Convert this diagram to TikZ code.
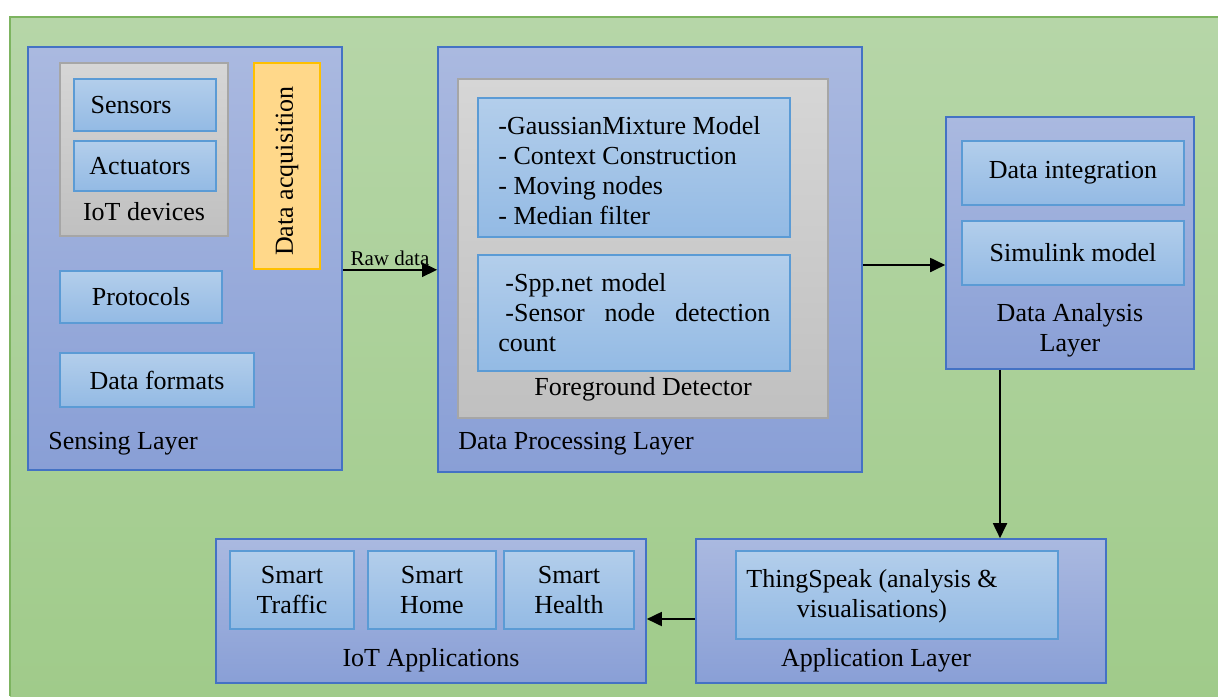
\documentclass[tikz,border=0pt]{standalone}
\usepackage{fontspec}
\setmainfont{Liberation Serif}
\usepackage{xcolor}
\usepackage{tikz}
\usetikzlibrary{arrows.meta,positioning,fit,calc}

\definecolor{gruenOben}{HTML}{B6D6A8}
\definecolor{gruenUnten}{HTML}{A0CB8A}
\definecolor{gruenRand}{HTML}{7DB460}
\definecolor{schichtOben}{HTML}{AAB9E0}
\definecolor{schichtUnten}{HTML}{899FD6}
\definecolor{schichtRand}{HTML}{4472C4}
\definecolor{bausteinOben}{HTML}{B3CEEB}
\definecolor{bausteinUnten}{HTML}{93BAE4}
\definecolor{bausteinRand}{HTML}{5B9BD5}
\definecolor{grauOben}{HTML}{D6D6D6}
\definecolor{grauUnten}{HTML}{C0C0C0}
\definecolor{grauRand}{HTML}{A6A6A6}
\definecolor{orangeFuell}{HTML}{FFD88A}
\definecolor{orangeRand}{HTML}{FFC000}

\begin{document}
\begin{tikzpicture}[x=0.5pt,y=-0.5pt,
  every node/.style={inner sep=0pt},
  font=\fontsize{13}{15}\selectfont,
  schicht/.style={draw=schichtRand,top color=schichtOben,bottom color=schichtUnten,line width=0.8pt},
  baustein/.style={draw=bausteinRand,top color=bausteinOben,bottom color=bausteinUnten,line width=0.8pt},
  gruppe/.style={draw=grauRand,top color=grauOben,bottom color=grauUnten,line width=0.8pt},
  erfassung/.style={draw=orangeRand,fill=orangeFuell,line width=0.8pt},
  pfeil/.style={line width=0.9pt,-{Triangle[length=7.5pt,width=7pt]}}]
%Hintergrund (Pixelkoordinaten, y nach unten)
\useasboundingbox (0,0) rectangle (1218,696);
\fill[top color=gruenOben,bottom color=gruenUnten] (10,17) rectangle (1218,696);
\draw[gruenRand,line width=1pt] (10,696) -- (10,17) -- (1218,17);
%Sensing Layer
\node[schicht,fit={(28,47) (342,470)}] (sensing) {};
\node[gruppe,fit={(60,63) (228,236)}] (geraete) {};
\node[baustein,fit={(74,79) (216,131)}] (sensoren) {};
\node (sensorentext) at (131,105) {Sensors};
\node[baustein,fit={(74,141) (216,191)}] (aktoren) {};
\node (aktorentext) at (140,166) {Actuators};
\node (geraetelabel) at (144,212) {IoT devices};
\node[erfassung,fit={(254,63) (320,269)}] (erfassung) {};
\node[rotate=90] (erfassungtext) at (287,171) {Data acquisition};
\node[baustein,fit={(60,271) (222,323)}] (protokolle) {};
\node (protokolletext) at (protokolle) {Protocols};
\node[baustein,fit={(60,353) (254,407)}] (formate) {};
\node (formatetext) at (formate) {Data formats};
\node[anchor=west] (sensinglabel) at (48,444) {Sensing Layer};
%Data Processing Layer
\node[schicht,fit={(438,47) (862,472)}] (verarbeitung) {};
\node[gruppe,fit={(458,79) (828,418)}] (vordergrund) {};
\node[baustein,fit={(478,98) (790,237)}] (gmm) {};
\node[anchor=west,align=left] (gmmtext) at (498,171) {-GaussianMixture Model\\- Context Construction\\- Moving nodes\\- Median filter};
\node[baustein,fit={(478,255) (790,371)}] (spp) {};
\node[anchor=west,text width=136pt,align=left] (spptext) at (498,313)
  {\hspace*{3.5pt}-Spp.net model\\\hspace*{3.5pt}-Sensor\hfill node\hfill detection\\count};
\node (vordergrundlabel) at (643,389) {Foreground Detector};
\node[anchor=west] (verarbeitunglabel) at (458,444) {Data Processing Layer};
%Data Analysis Layer
\node[schicht,fit={(946,117) (1194,369)}] (analyse) {};
\node[baustein,fit={(962,141) (1184,205)}] (integration) {};
\node (integrationtext) at (integration) {Data integration};
\node[baustein,fit={(962,221) (1184,285)}] (simulink) {};
\node (simulinktext) at (simulink) {Simulink model};
\node[align=center] (analyselabel) at (1070,330) {Data Analysis\\Layer};
%Application Layer
\node[schicht,fit={(696,539) (1106,683)}] (anwendung) {};
\node[baustein,fit={(736,551) (1058,639)}] (thingspeak) {};
\node[align=center] (thingspeaktext) at (872,596) {ThingSpeak (analysis \&\\visualisations)};
\node (anwendunglabel) at (876,660) {Application Layer};
%IoT Applications
\node[schicht,fit={(216,539) (646,683)}] (apps) {};
\foreach \name/\xa/\xb/\was in {verkehr/230/354/Traffic,heim/368/496/Home,gesundheit/504/634/Health}{
  \node[baustein,fit={(\xa,551) (\xb,629)}] (\name) {};
  \node[align=center] (\name text) at (\name) {Smart\\\was};
}
\node (appslabel) at (431,660) {IoT Applications};
%Pfeile
\draw[pfeil] (erfassung.south -| sensing.east) --node[above=1.5pt,font=\fontsize{10.5}{12}\selectfont] (rawlabel) {Raw data} (erfassung.south -| verarbeitung.west);
\draw[pfeil] ([yshift=-2.75pt]verarbeitung.east) -- ([yshift=-2.75pt]verarbeitung.east -| analyse.west);
\draw[pfeil] ([xshift=-35pt]analyse.south) -- ([xshift=-35pt]analyse.south |- anwendung.north);
\draw[pfeil] ([yshift=-4pt]anwendung.west) -- ([yshift=-4pt]anwendung.west -| apps.east);
\end{tikzpicture}
\end{document}
